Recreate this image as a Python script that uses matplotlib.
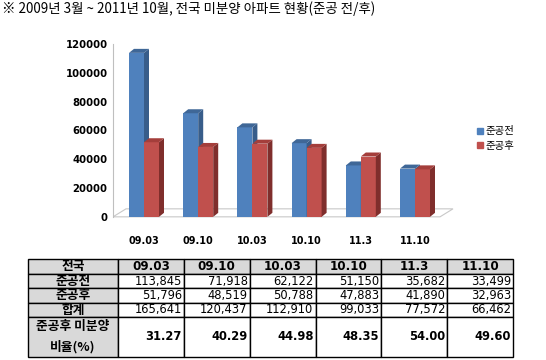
import numpy as np
import matplotlib.pyplot as plt
from matplotlib.patches import Polygon, Patch
from matplotlib.table import Table

plt.rcParams['font.family'] = ['Noto Sans CJK KR', 'DejaVu Sans']

# ---- data ----
periods = ['09.03', '09.10', '10.03', '10.10', '11.3', '11.10']
before = [113845, 71918, 62122, 51150, 35682, 33499]   # 준공전
after = [51796, 48519, 50788, 47883, 41890, 32963]     # 준공후
total = [165641, 120437, 112910, 99033, 77572, 66462]  # 합계
ratio = [31.27, 40.29, 44.98, 48.35, 54.00, 49.60]     # 준공후 미분양 비율(%)
before_txt = ['113,845', '71,918', '62,122', '51,150', '35,682', '33,499']
after_txt = ['51,796', '48,519', '50,788', '47,883', '41,890', '32,963']
total_txt = ['165,641', '120,437', '112,910', '99,033', '77,572', '66,462']

W, H = 546, 360
fig = plt.figure(figsize=(W / 100, H / 100), dpi=100)

fig.text(2 / W, 1 - 9 / H, '※ 2009년 3월 ~ 2011년 10월, 전국 미분양 아파트 현황(준공 전/후)',
         fontsize=9.7, va='center', ha='left')

# ---- chart ----
ax_l, ax_r, ax_t, ax_b = 113, 460, 44, 219
ax = fig.add_axes([ax_l / W, 1 - ax_b / H, (ax_r - ax_l) / W, (ax_b - ax_t) / H])
ppx = 54.2                     # pixels per category
x0 = -31 / ppx
ax.set_xlim(x0, x0 + (ax_r - ax_l) / ppx)
ax.set_ylim(-1500, 120000)
ppy = (ax_b - ax_t) / 121500   # pixels per unit

bw = 15 / ppx
dx, dy = 5 / ppx, 4 / ppy

# floor
fl = Polygon([(x0, 0), ((440 - ax_l) / ppx + x0, 0),
              ((453 - ax_l) / ppx + x0, 8 / ppy), ((126 - ax_l) / ppx + x0, 8 / ppy)],
             closed=True, facecolor='white', edgecolor='#c8c8c8', lw=0.8, zorder=0)
ax.add_patch(fl)

x = np.arange(len(periods))
colors = [('#4F81BD', '#385D8A', '#3F6797'), ('#C0504D', '#7F2E2C', '#A43E3B')]


def bar3d(xc, h, cols):
    front, side, top = cols
    b = ax.bar(xc, h, bw, color=front, align='edge', zorder=2)[0]
    left = b.get_x()
    right = left + bw
    ax.add_patch(Polygon([(right, 0), (right + dx, dy), (right + dx, h + dy), (right, h)],
                         closed=True, facecolor=side, edgecolor='none', zorder=2))
    ax.add_patch(Polygon([(left, h), (left + dx, h + dy), (right + dx, h + dy), (right, h)],
                         closed=True, facecolor=top, edgecolor='none', zorder=2))


for i in x:
    bar3d(i - bw, before[i], colors[0])
    bar3d(i, after[i], colors[1])

ax.set_yticks(np.arange(0, 120001, 20000))
ax.set_yticklabels([str(v) for v in range(0, 120001, 20000)], fontsize=7.3, fontweight='bold',
                   family=['DejaVu Sans'])
ax.set_xticks(x)
ax.set_xticklabels(periods, fontsize=7, fontweight='bold', family=['DejaVu Sans'])
ax.tick_params(length=0, pad=4)
ax.tick_params(axis='x', pad=12)
for s in ['top', 'right', 'bottom']:
    ax.spines[s].set_visible(False)
ax.spines['left'].set_color('#bfbfbf')
ax.spines['left'].set_bounds(0, 120000)

fig.legend(handles=[Patch(color=colors[0][0], label='준공전'), Patch(color=colors[1][0], label='준공후')],
           loc='upper left', bbox_to_anchor=(468 / W, 1 - 117 / H), frameon=False,
           fontsize=7.5, handlelength=0.5, handleheight=0.5, handletextpad=0.3, labelspacing=0.45)

# ---- table ----
t_l, t_r, t_t, t_b = 28, 513, 259, 357
tax = fig.add_axes([t_l / W, 1 - t_b / H, (t_r - t_l) / W, (t_b - t_t) / H])
tax.axis('off')
tb = Table(tax, bbox=[0, 0, 1, 1])
col_w = [90] + [(t_r - t_l - 90) / 6] * 6
row_h = [15, 14, 15, 14, 40]
gray = '#D9D9D9'
rows = [['전국'] + periods,
        ['준공전'] + before_txt,
        ['준공후'] + after_txt,
        ['합계'] + total_txt,
        ['준공후 미분양\n비율(%)'] + ['%.2f' % v for v in ratio]]
for r, row in enumerate(rows):
    for c, txt in enumerate(row):
        if r == 0 or c == 0:
            cell = tb.add_cell(r, c, col_w[c], row_h[r], text=txt, loc='center', facecolor=gray)
            cell.get_text().set_fontweight('bold')
            if c == 0:
                cell.get_text().set_fontsize(9.2)
            else:
                cell.get_text().set_family(['DejaVu Sans'])
                cell.get_text().set_fontsize(8.6)
        else:
            cell = tb.add_cell(r, c, col_w[c], row_h[r], text=txt, loc='right', facecolor='white')
            cell.get_text().set_family(['DejaVu Sans'])
            if r == 4:
                cell.get_text().set_fontweight('bold')
            cell.get_text().set_fontsize(8.3)
        cell.PAD = 0.03
        cell.set_edgecolor('black')
        cell.set_linewidth(1)
        cell.get_text().set_linespacing(1.7)
tb.auto_set_font_size(False)
tax.add_table(tb)

fig.savefig('out.png', dpi=100)
